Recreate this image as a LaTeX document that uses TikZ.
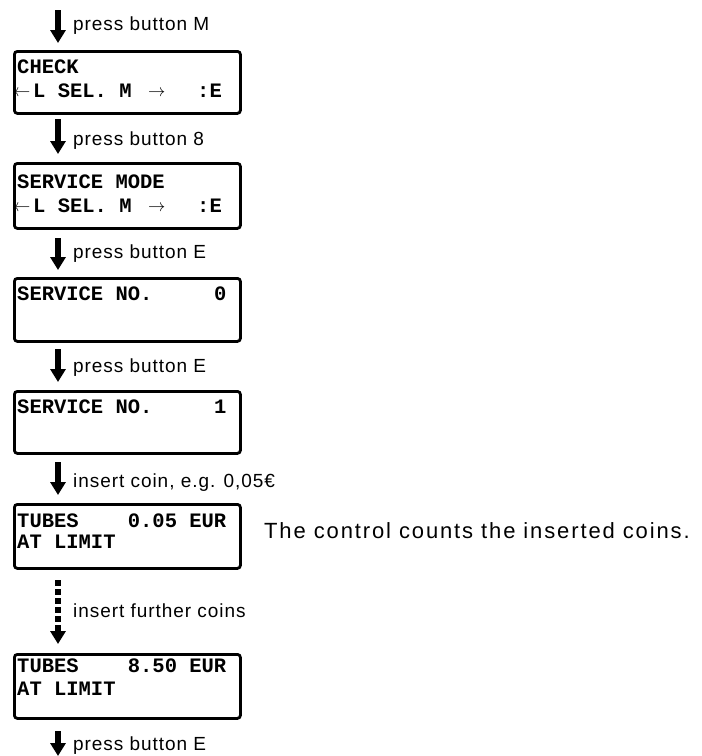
\documentclass[tikz,border=0pt]{standalone}
\usepackage{fontspec}
\setmainfont{Liberation Sans}
\newfontfamily\lcdfont{Liberation Mono}
\newfontfamily\labfont{Liberation Sans}[LetterSpace=5]
\newfontfamily\notefont{Liberation Sans}[LetterSpace=8.5]
\usetikzlibrary{arrows.meta}
\begin{document}
\begin{tikzpicture}[x=1pt,y=-1pt,
  lcdbox/.style={draw,line width=2.8pt,rounded corners=3pt,minimum width=226pt,anchor=north west,inner sep=0pt},
  lcdtext/.style={anchor=base west,inner sep=0pt,font=\lcdfont\bfseries\fontsize{20.5}{22}\selectfont},
  lcdarr/.style={anchor=base west,inner sep=0pt,font=\fontsize{16}{17}\selectfont},
  lab/.style={anchor=base west,inner sep=0pt,font=\labfont\fontsize{19}{21}\selectfont},
  note/.style={anchor=base west,inner sep=0pt,font=\notefont\fontsize{22}{25}\selectfont},
  flow/.style={line width=5.5pt,-{Triangle[width=15pt,length=13pt]}},
  flowdash/.style={flow,dash pattern=on 6pt off 3pt}]
\useasboundingbox (0,0) rectangle (702,756);

% boxes
\node[lcdbox,minimum height=62pt] (b1) at (13,50) {};
\node[lcdbox,minimum height=65pt] (b2) at (13,162) {};
\node[lcdbox,minimum height=63pt] (b3) at (13,277) {};
\node[lcdbox,minimum height=62pt] (b4) at (13,390) {};
\node[lcdbox,minimum height=64pt] (b5) at (13,503) {};
\node[lcdbox,minimum height=64pt] (b6) at (13,653) {};

% box texts
\node[lcdtext] (t1a) at (17,73) {CHECK};
\node[lcdarr] (t1l) at (13,96) {$\leftarrow$};
\node[lcdtext] (t1b) at (33,97) {L SEL. M};
\node[lcdarr] (t1r) at (148,96) {$\rightarrow$};
\node[lcdtext] (t1e) at (197,97) {:E};

\node[lcdtext] (t2a) at (17,188) {SERVICE MODE};
\node[lcdarr] (t2l) at (13,211) {$\leftarrow$};
\node[lcdtext] (t2b) at (33,212) {L SEL. M};
\node[lcdarr] (t2r) at (148,211) {$\rightarrow$};
\node[lcdtext] (t2e) at (197,212) {:E};

\node[lcdtext] (t3a) at (17,300) {SERVICE NO.\ \ \ \ \ 0};
\node[lcdtext] (t4a) at (17,413) {SERVICE NO.\ \ \ \ \ 1};

\node[lcdtext] (t5a) at (17,527) {TUBES\ \ \ \ 0.05 EUR};
\node[lcdtext] (t5b) at (17,548) {AT LIMIT};
\node[lcdtext] (t6a) at (17,672) {TUBES\ \ \ \ 8.50 EUR};
\node[lcdtext] (t6b) at (17,695) {AT LIMIT};

\node[note] (n1) at (264,538) {The control counts the inserted coins.};

% arrows
\coordinate (s1) at (58,10);  \coordinate (e1) at (58,43);
\coordinate (s2) at (58,119); \coordinate (e2) at (58,154);
\coordinate (s3) at (58,238); \coordinate (e3) at (58,270);
\coordinate (s4) at (58,349); \coordinate (e4) at (58,382);
\coordinate (s5) at (58,462); \coordinate (e5) at (58,495);
\coordinate (s6) at (58,580); \coordinate (e6) at (58,644);
\coordinate (s7) at (58,731); \coordinate (e7) at (58,756);
\draw[flow] (s1) -- (e1);
\draw[flow] (s2) -- (e2);
\draw[flow] (s3) -- (e3);
\draw[flow] (s4) -- (e4);
\draw[flow] (s5) -- (e5);
\draw[flowdash] (s6) -- (e6);
\draw[flow] (s7) -- (e7);

% labels
\node[lab] (l1) at (73,30) {press button M};
\node[lab] (l2) at (73,145) {press button 8};
\node[lab] (l3) at (73,258) {press button E};
\node[lab] (l4) at (73,372) {press button E};
\node[lab] (l5) at (73,487) {insert coin, e.g. 0,05€};
\node[lab] (l6) at (73,617) {insert further coins};
\node[lab] (l7) at (73,750) {press button E};
\end{tikzpicture}
\end{document}
